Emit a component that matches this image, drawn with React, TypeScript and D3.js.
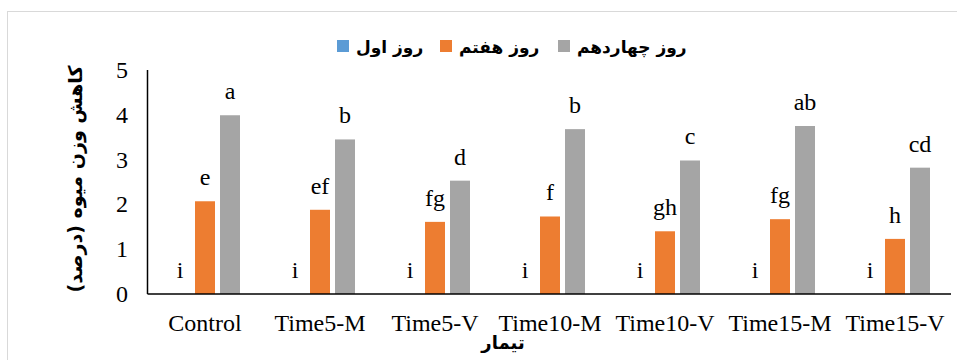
import React from "react";
import * as d3 from "d3";

const categories = ["Control", "Time5-M", "Time5-V", "Time10-M", "Time10-V", "Time15-M", "Time15-V"];
const seriesNames = ["روز اول", "روز هفتم", "روز چهاردهم"];
const seriesColors = ["#5B9BD5", "#ED7D31", "#A5A5A5"];
const day1 = [0, 0, 0, 0, 0, 0, 0];
const day7 = [2.07, 1.88, 1.61, 1.73, 1.40, 1.67, 1.23];
const day14 = [3.99, 3.45, 2.53, 3.68, 2.98, 3.75, 2.82];
const day1Letters = ["i", "i", "i", "i", "i", "i", "i"];
const day7Letters = ["e", "ef", "fg", "f", "gh", "fg", "h"];
const day14Letters = ["a", "b", "d", "b", "c", "ab", "cd"];
const yTicks = [0, 1, 2, 3, 4, 5];
const yTitle = "کاهش وزن میوه (درصد)";
const xTitle = "تیمار";

const W = 957;
const H = 360;

export default function App() {
  const values = [day1, day7, day14];
  const letters = [day1Letters, day7Letters, day14Letters];
  const x = d3.scaleBand<string>().domain(categories).range([147.5, 952.5]).paddingInner(0).paddingOuter(0);
  const xi = d3.scaleBand<number>().domain([0, 1, 2]).range([22.5, 92.5]).paddingInner(0.2).paddingOuter(0);
  const y = d3.scaleLinear().domain([0, 5]).range([294, 70]);
  const serif = "Liberation Serif";
  const arabic = "DejaVu Sans";

  const legendItems = [
    { i: 0, x: 337 },
    { i: 1, x: 440 },
    { i: 2, x: 558 },
  ];

  return (
    <svg width={W} height={H} style={{ position: "absolute", left: 0, top: 0, background: "#fff" }}>
      <rect x={7.5} y={11.5} width={W} height={H} fill="#fff" stroke="#d9d9d9" strokeWidth={1} />
      {categories.map((c, ci) => (
        <g key={c} transform={`translate(${x(c)},0)`}>
          {values.map((s, si) => {
            const v = s[ci];
            const bx = xi(si)!;
            const bw = xi.bandwidth();
            return (
              <g key={si}>
                {v > 0 && (
                  <rect x={bx} y={y(v)} width={bw} height={y(0) - y(v)} fill={seriesColors[si]} />
                )}
                <text
                  x={bx + bw / 2}
                  y={y(v) - 16}
                  textAnchor="middle"
                  fontFamily={serif}
                  fontSize={24}
                  fill="#000"
                >
                  {letters[si][ci]}
                </text>
              </g>
            );
          })}
        </g>
      ))}
      <line x1={147.5} x2={951} y1={294} y2={294} stroke="#000" strokeWidth={1.5} />
      <line x1={147.5} x2={147.5} y1={70} y2={294} stroke="#000" strokeWidth={1.5} />
      {yTicks.map((t) => (
        <text
          key={t}
          x={128}
          y={y(t)}
          textAnchor="end"
          dominantBaseline="central"
          fontFamily={serif}
          fontSize={24}
          fill="#000"
        >
          {t}
        </text>
      ))}
      {categories.map((c) => (
        <text
          key={c}
          x={x(c)! + x.bandwidth() / 2}
          y={331}
          textAnchor="middle"
          fontFamily={serif}
          fontSize={24}
          fill="#000"
        >
          {c}
        </text>
      ))}
      <text
        transform={`translate(82,179) rotate(-90)`}
        textAnchor="middle"
        fontFamily={arabic}
        fontWeight="bold"
        fontSize={19}
        direction="rtl"
        fill="#000"
      >
        {yTitle}
      </text>
      <text
        x={503}
        y={349}
        textAnchor="middle"
        fontFamily={arabic}
        fontWeight="bold"
        fontSize={18}
        direction="rtl"
        fill="#000"
      >
        {xTitle}
      </text>
      {legendItems.map(({ i, x: lx }) => (
        <g key={i}>
          <rect x={lx} y={40} width={12} height={12} fill={seriesColors[i]} />
          <text
            x={lx + 19}
            y={53}
            textAnchor="start"
            fontFamily={arabic}
            fontWeight="bold"
            fontSize={17}
            fill="#000"
          >
            {seriesNames[i]}
          </text>
        </g>
      ))}
    </svg>
  );
}
